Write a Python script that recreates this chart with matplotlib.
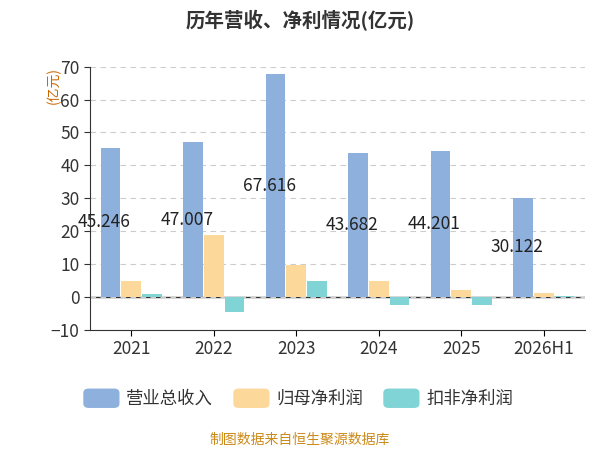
import matplotlib.pyplot as plt
import numpy as np
from matplotlib.patches import FancyBboxPatch

plt.rcParams['font.family'] = ['Noto Sans CJK SC', 'DejaVu Sans']

years = ['2021', '2022', '2023', '2024', '2025', '2026H1']
revenue = [45.246, 47.007, 67.616, 43.682, 44.201, 30.122]
net_profit = [4.7, 18.7, 9.6, 4.7, 2.2, 1.2]
deducted = [0.9, -4.7, 4.7, -2.3, -2.6, 0.4]

c_rev = '#8eb0dc'
c_np = '#fdd89b'
c_dd = '#80d4d6'

fig = plt.figure(figsize=(6, 4.5), dpi=100)
ax = fig.add_axes([0.15, 0.267, 0.825, 0.585])

x = np.arange(len(years))
w = 0.25
ax.bar(x - w, revenue, w * 0.95, color=c_rev, zorder=2)
ax.bar(x, net_profit, w * 0.95, color=c_np, zorder=2)
ax.bar(x + w, deducted, w * 0.95, color=c_dd, zorder=2)
for i, v in enumerate(revenue):
    ax.text(x[i] - w * 1.3, v / 2, f'{v:.3f}', ha='center', va='center', fontsize=12.5, color='#222222', zorder=3)

ax.set_ylim(-10, 70)
ax.set_yticks(range(-10, 71, 10))
ax.set_xlim(-0.5, len(years) - 0.5)
ax.set_xticks(x)
ax.set_xticklabels(years, fontsize=12.5, color='#333333')
ax.tick_params(axis='y', labelsize=12.5, colors='#333333', length=4)
ax.tick_params(axis='x', length=4)
ax.grid(axis='y', linestyle=(0, (5, 4)), color='#cccccc', zorder=0)
for s in ['top', 'right']:
    ax.spines[s].set_visible(False)
ax.spines['left'].set_color('#333333')
ax.spines['bottom'].set_color('#333333')
ax.axhline(0, color='#333333', lw=1, zorder=1)

fig.text(0.5, 0.955, '历年营收、净利情况(亿元)', ha='center', va='center', fontsize=14, fontweight='bold', color='#333333')
fig.text(0.09, 0.81, '(亿元)', rotation=90, ha='center', va='center', fontsize=10, color='#cc6600')

items = [('营业总收入', c_rev, 0.14), ('归母净利润', c_np, 0.39), ('扣非净利润', c_dd, 0.64)]
for label, col, lx in items:
    fig.patches.append(FancyBboxPatch((lx, 0.095 + 0.0), 0.058, 0.04, boxstyle='round,pad=0,rounding_size=0.008',
                                      transform=fig.transFigure, color=col))
    fig.text(lx + 0.07, 0.113, label, ha='left', va='center', fontsize=12.5, color='#333333')

fig.text(0.5, 0.022, '制图数据来自恒生聚源数据库', ha='center', va='center', fontsize=10, color='#cc8a1a')

fig.savefig('out.png', dpi=100)
